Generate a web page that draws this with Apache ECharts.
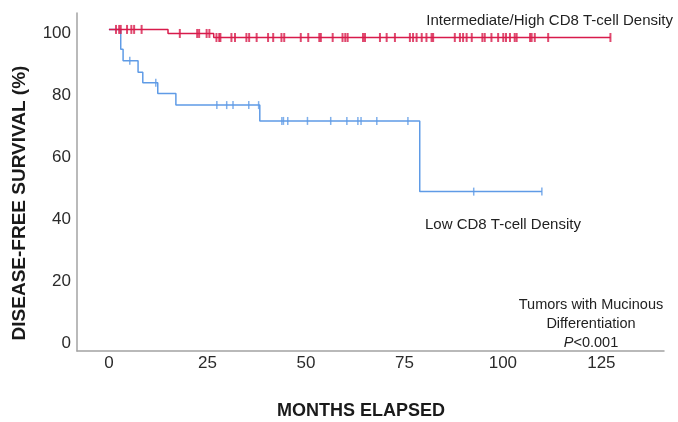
<!DOCTYPE html>
<html>
<head>
<meta charset="utf-8">
<script src="https://cdn.jsdelivr.net/npm/echarts@6/dist/echarts.min.js"></script>
<style>
  html, body { margin: 0; padding: 0; background: #fff; }
  #chart { width: 678px; height: 422px; }
</style>
</head>
<body>
<div id="chart"></div>
<script>
// Kaplan-Meier disease-free survival, tumors with mucinous differentiation

// Intermediate/High CD8 T-cell density group
const highStepMonths   = [0, 15.0, 26.6];
const highStepSurvival = [100, 98.7, 97.4];
const highEndMonth = 127.3;
const highCensorMonths = [1.8, 2.6, 3.0, 4.6, 5.7, 6.4, 8.3, 18.0, 22.4, 22.9, 24.8, 25.5,
  27.3, 28.0, 28.3, 31.1, 32.0, 34.9, 35.6, 37.5, 40.4, 41.7, 43.8, 44.5, 48.7, 50.6,
  53.4, 53.8, 56.8, 59.3, 60.0, 60.6, 64.5, 65.0, 68.8, 70.5, 72.6, 76.4, 77.2, 78.1,
  79.4, 80.6, 81.9, 82.3, 87.8, 89.1, 89.9, 90.8, 92.1, 94.8, 95.4, 97.1, 98.8, 100.1,
  100.8, 101.8, 103.0, 103.5, 106.9, 107.3, 108.1, 111.5, 127.3];

// Low CD8 T-cell density group
const lowStepMonths   = [0, 3.0, 3.6, 7.4, 8.6, 12.4, 17.0, 38.3, 78.9];
const lowStepSurvival = [100, 93.6, 89.9, 86.2, 82.8, 79.3, 75.6, 70.5, 47.7];
const lowEndMonth = 109.9;
const lowCensorMonths = [5.3, 11.9, 27.4, 29.9, 31.5, 35.5, 38.0, 43.9, 44.3, 45.4, 50.4,
  56.3, 60.4, 63.2, 64.0, 68.0, 75.9, 92.6, 109.9];

// Axis ticks
const monthTicks = [0, 25, 50, 75, 100, 125];
const survivalTicks = [0, 20, 40, 60, 80, 100];

const FONT = "'Liberation Sans', Arial, Helvetica, sans-serif";
const RED = '#d81b4b';
const BLUE = '#5f9be6';

function stepCurve(months, survival, endMonth) {
  const pts = months.map((m, i) => [m, survival[i]]);
  pts.push([endMonth, survival[survival.length - 1]]);
  return pts;
}
function survivalAt(months, survival, t) {
  let s = survival[0];
  for (let i = 0; i < months.length; i++) {
    if (months[i] <= t) s = survival[i];
  }
  return s;
}
function censorPoints(censor, months, survival) {
  return censor.map(t => [t, survivalAt(months, survival, t)]);
}

const chart = echarts.init(document.getElementById('chart'), null, { renderer: 'canvas' });

chart.setOption({
  animation: false,
  backgroundColor: '#ffffff',
  grid: { left: 77, right: 14, top: 13, bottom: 71, containLabel: false },
  xAxis: {
    type: 'value',
    min: -8.1,
    max: 140.9,
    splitLine: { show: false },
    axisTick: { show: false },
    axisLine: { show: true, onZero: false, lineStyle: { color: '#a3a3a3', width: 1.5 } },
    axisLabel: {
      customValues: monthTicks,
      color: '#2b2b2b',
      fontFamily: FONT,
      fontSize: 17,
      margin: 4
    }
  },
  yAxis: {
    type: 'value',
    min: -3.7,
    max: 105.3,
    splitLine: { show: false },
    axisTick: { show: false },
    axisLine: { show: true, onZero: false, lineStyle: { color: '#a3a3a3', width: 1.5 } },
    axisLabel: {
      customValues: survivalTicks,
      color: '#2b2b2b',
      fontFamily: FONT,
      fontSize: 17,
      margin: 6,
      verticalAlign: 'top',
      lineHeight: 8
    }
  },
  series: [
    {
      type: 'line',
      step: 'end',
      data: stepCurve(lowStepMonths, lowStepSurvival, lowEndMonth),
      showSymbol: false,
      lineStyle: { color: BLUE, width: 1.5 },
      silent: true,
      z: 2
    },
    {
      type: 'scatter',
      data: censorPoints(lowCensorMonths, lowStepMonths, lowStepSurvival),
      symbol: 'rect',
      symbolSize: [1.5, 8],
      itemStyle: { color: BLUE },
      silent: true,
      z: 3
    },
    {
      type: 'line',
      step: 'end',
      data: stepCurve(highStepMonths, highStepSurvival, highEndMonth),
      showSymbol: false,
      lineStyle: { color: RED, width: 1.5 },
      silent: true,
      z: 4
    },
    {
      type: 'scatter',
      data: censorPoints(highCensorMonths, highStepMonths, highStepSurvival),
      symbol: 'rect',
      symbolSize: [2, 9],
      itemStyle: { color: RED },
      silent: true,
      z: 5
    }
  ],
  graphic: [
    {
      type: 'text', x: 20, y: 203, rotation: Math.PI / 2,
      style: { text: 'DISEASE-FREE SURVIVAL (%)', font: 'bold 19px ' + FONT, fill: '#1a1a1a',
               textAlign: 'center', textVerticalAlign: 'middle' }
    },
    {
      type: 'text', x: 361, y: 411,
      style: { text: 'MONTHS ELAPSED', font: 'bold 18px ' + FONT, fill: '#1a1a1a',
               textAlign: 'center', textVerticalAlign: 'middle' }
    },
    {
      type: 'text', x: 673, y: 21,
      style: { text: 'Intermediate/High CD8 T-cell Density', font: '15px ' + FONT, fill: '#222',
               textAlign: 'right', textVerticalAlign: 'middle' }
    },
    {
      type: 'text', x: 425, y: 225,
      style: { text: 'Low CD8 T-cell Density', font: '15px ' + FONT, fill: '#222',
               textAlign: 'left', textVerticalAlign: 'middle' }
    },
    {
      type: 'text', x: 591, y: 305,
      style: { text: 'Tumors with Mucinous', font: '14.5px ' + FONT, fill: '#222',
               textAlign: 'center', textVerticalAlign: 'middle' }
    },
    {
      type: 'text', x: 591, y: 324,
      style: { text: 'Differentiation', font: '14.5px ' + FONT, fill: '#222',
               textAlign: 'center', textVerticalAlign: 'middle' }
    },
    {
      type: 'text', x: 591, y: 343,
      style: { text: '{i|P}<0.001', font: '14.5px ' + FONT, fill: '#222',
               textAlign: 'center', textVerticalAlign: 'middle',
               rich: { i: { fontStyle: 'italic', fontSize: 14.5, fontFamily: FONT, fill: '#222' } } }
    }
  ]
});
</script>
</body>
</html>
